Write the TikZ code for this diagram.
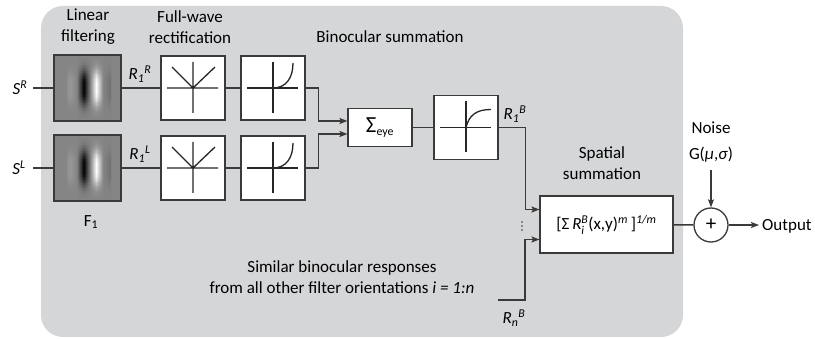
\documentclass[tikz,border=0pt]{standalone}
\usepackage{fontspec}
\usepackage{amsmath}
\setmainfont{Carlito}
\usetikzlibrary{arrows.meta,calc}
\definecolor{panel}{HTML}{D5D6D8}
\definecolor{linec}{HTML}{3A3A3A}
\definecolor{gb}{gray}{0.52}
\definecolor{gbl}{gray}{0.60}
\definecolor{gbd}{gray}{0.44}
\pgfdeclarehorizontalshading{gabor}{100bp}{color(0bp)=(gb); color(20bp)=(gb); color(29bp)=(gbl); color(36bp)=(gb); color(44bp)=(black); color(58bp)=(white); color(66bp)=(gb); color(74bp)=(gbd); color(82bp)=(gb); color(100bp)=(gb)}
\begin{document}
\begin{tikzpicture}[x=1pt,y=-1pt,
  every node/.style={font=\fontsize{17}{21}\selectfont, text=black},
  box/.style={draw=linec, fill=white, line width=1.1pt, minimum width=64pt, minimum height=64pt, inner sep=0pt},
  filt/.style={draw=linec, fill=gb, line width=1.1pt, minimum width=66pt, minimum height=66pt, inner sep=0pt},
  conn/.style={draw=linec, line width=1.4pt},
  arr/.style={conn, -{Stealth[length=8pt,width=6pt,inset=1.5pt]}},
  icon/.style={draw=black!85, line width=1.3pt},
  lbl/.style={inner sep=0pt, align=center}]
\useasboundingbox (0,0) rectangle (815,339);
\fill[panel, rounded corners=22pt] (41,6) rectangle (683,337);

% main blocks
\node[filt] (fR) at (87.5,88) {};
\node[filt] (fL) at (87.5,168) {};
\node[box] (wR) at (193,88) {};
\node[box] (pR) at (273,88) {};
\node[box] (wL) at (193,168) {};
\node[box] (pL) at (273,168) {};
\node[box, minimum height=38pt] (sum) at (380,127.5) {\mbox{\fontsize{23}{23}\selectfont Σ}$_{\text{eye}}$};
\node[box] (sat) at (466,127.5) {};
\node[box, minimum width=133pt, minimum height=57pt] (spat) at (606.5,224.5) {[Σ\,\textit{R}$_{\textit{i}}^{\textit{B}}$(x,y)$^{\textit{m}}$\,]$^{\textit{1/m}}$};
\node[draw=linec, line width=1.3pt, circle, minimum size=34pt, inner sep=0pt, fill=white, font=\fontsize{21}{21}\selectfont] (plus) at (711,225) {+};

% Gabor filters
\foreach \f in {fR,fL}{
  \foreach \k in {-16,...,15}{
    \pgfmathsetmacro\op{exp(-(((\k+0.5)*2/10)^2)/2)}
    \shade[shading=gabor, fill opacity=\op] ($(\f.center)+(-20.5,2*\k)$) rectangle ($(\f.center)+(23.5,2*\k+2.05)$);
  }
  \draw[linec, line width=1.1pt] (\f.north west) rectangle (\f.south east);
}

% icons
\foreach \b in {wR,wL}{
  \begin{scope}[shift={(\b.center)}]
    \draw[icon] (-26,0) -- (25,0) (0,-26) -- (0,25) (-21,-21) -- (0,0) -- (22,-21);
  \end{scope}
}
\foreach \b in {pR,pL}{
  \begin{scope}[shift={(\b.center)}]
    \draw[icon] (-26,0) -- (25,0) (0,-26) -- (0,25);
    \draw[icon] (0,0) .. controls (13,0) and (20,-10) .. (20,-25);
  \end{scope}
}
\begin{scope}[shift={(sat.center)}]
  \draw[icon] (-26,0) -- (25,0) (0,-26) -- (0,25);
  \draw[icon] (0,0) .. controls (3,-12) and (10,-18) .. (25,-18);
\end{scope}

% connectors
\coordinate (sR) at (33,88);
\coordinate (sL) at (33,168);
\coordinate (rn) at (498,300);
\coordinate (out) at (759,225);
\coordinate (nz) at (711,170);
\draw[conn] (sR) -- (fR);
\draw[conn] (sL) -- (fL);
\draw[conn] (fR) -- (wR);
\draw[conn] (fL) -- (wL);
\draw[conn] (wR) -- (pR);
\draw[conn] (wL) -- (pL);
\draw[arr] (pR.east) -- ++(13,0) |- ($(sum.west)+(0,-6.5)$);
\draw[arr] (pL.east) -- ++(13,0) |- ($(sum.west)+(0,6.5)$);
\draw[conn] (sum) -- (sat);
\draw[arr] (sat.east) -- ++(27,0) |- ($(spat.west)+(0,-15)$);
\draw[arr] (rn) -- ++(27,0) |- ($(spat.west)+(0,15)$);
\draw[conn] (spat) -- (plus);
\draw[arr] (plus) -- (out);
\draw[arr] (nz) -- (plus);
\foreach \yy in {222,226,230} \fill[linec] (522,\yy) circle (0.8pt);

% labels
\node[lbl] (lSR) at (20,88) {\textit{S}$^{\textit{R}}$};
\node[lbl] (lSL) at (19,168) {\textit{S}$^{\textit{L}}$};
\node[lbl] (lR1R) at (140,74) {\textit{R}$_{\textit{1}}{}^{\textit{R}}$};
\node[lbl] (lR1L) at (140,154) {\textit{R}$_{\textit{1}}{}^{\textit{L}}$};
\node[lbl] (lR1B) at (515,114) {\textit{R}$_{\textit{1}}{}^{\textit{B}}$};
\node[lbl] (lRnB) at (514,318) {\textit{R}$_{\textit{n}}{}^{\textit{B}}$};
\node[lbl] (tLin) at (88,27) {Linear\\filtering};
\node[lbl] (tFW) at (190,27) {Full-wave\\rectification};
\node[lbl] (tBin) at (390,37) {Binocular summation};
\node[lbl] (tSp) at (602,163) {Spatial\\summation};
\node[lbl] (tF1) at (91,222) {F$_{\text{1}}$};
\node[lbl] (tSim) at (342,277) {Similar binocular responses\\from all other filter orientations \textit{i = 1:n}};
\node[lbl] (tNoise) at (711,128) {Noise};
\node[lbl] (gn) at (711,155) {G(\textit{μ},\textit{σ})};
\node[lbl, anchor=west] (tOut) at (762,226) {Output};
\end{tikzpicture}
\end{document}
